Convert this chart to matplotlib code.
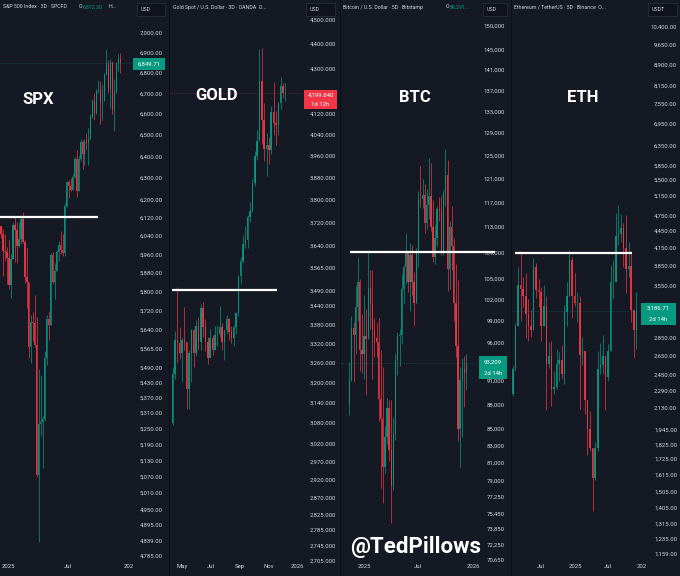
import matplotlib
matplotlib.use("Agg")
import matplotlib.pyplot as plt
from matplotlib.patches import Rectangle
from matplotlib.ticker import NullLocator, NullFormatter
import numpy as np

plt.rcParams['font.family'] = ['Roboto', 'DejaVu Sans']

W, H = 680, 576
BG = '#151924'
UP = '#089981'
DOWN = '#f23645'
TXT = '#d1d4dc'

# ---- SPX, 6 day candles from 2024-12-11 (day 0 = 2025-01-01)
spx_start, spx_step, spx_open = -21, 6, 6085
spx_close = [6050, 5975, 5970, 5942, 5827, 5937, 6086, 6067, 5994, 6026, 6115, 6013, 5861, 5842, 5572,
             5675, 5667, 5581, 5074, 5268, 5275, 5287, 5528, 5686, 5660, 5958, 5842, 5888, 5970, 6000,
             5977, 5967, 6173, 6279, 6263, 6243, 6305, 6388, 6238, 6389, 6468, 6411, 6465, 6460, 6481,
             6584, 6664, 6605, 6711, 6714, 6655, 6664, 6791, 6840, 6720, 6850, 6617, 6705, 6849, 6870, 6850]
spx_high = [6085, 6070, 6050, 5990, 6020, 5960, 6100, 6128, 6100, 6100, 6127, 6147, 6020, 5986, 5810,
            5700, 5715, 5786, 5695, 5481, 5460, 5300, 5555, 5700, 5720, 5965, 5970, 5920, 5980, 6016,
            6060, 6050, 6187, 6285, 6290, 6300, 6320, 6395, 6427, 6400, 6481, 6475, 6480, 6508, 6533,
            6600, 6672, 6700, 6720, 6765, 6760, 6744, 6800, 6920, 6865, 6870, 6860, 6770, 6853, 6895, 6900]
spx_low = [6030, 5865, 5930, 5830, 5810, 5773, 5940, 5925, 5920, 5990, 6003, 6008, 5837, 5732, 5528,
           5505, 5597, 5572, 5070, 4835, 5220, 5101, 5280, 5500, 5600, 5770, 5830, 5768, 5890, 5930,
           5960, 5950, 5950, 6170, 6210, 6240, 6250, 6300, 6212, 6240, 6380, 6343, 6360, 6430, 6360,
           6480, 6580, 6570, 6600, 6700, 6550, 6570, 6660, 6800, 6700, 6630, 6600, 6520, 6700, 6810, 6800]
spx_ticks = [7000, 6900, 6800, 6700, 6600, 6500, 6400, 6300, 6200, 6120, 6040, 5960, 5880, 5800, 5720,
             5640, 5565, 5490, 5430, 5370, 5310, 5250, 5190, 5130, 5070, 5010, 4950, 4895, 4839, 4785]
spx_dates = [0, 181, 365]
spx_date_labels = ['2025', 'Jul', '202']
spx_level = 6125
spx_last = 6849.71

# ---- Gold, 5 day candles from 2025-04-10
gold_start, gold_step, gold_open = 100, 5, 3080
gold_close = [3225, 3330, 3320, 3290, 3330, 3325, 3180, 3290, 3360, 3290, 3375, 3325, 3432, 3370, 3325,
              3275, 3335, 3300, 3345, 3350, 3370, 3325, 3360, 3395, 3355, 3335, 3370, 3415, 3535, 3586,
              3645, 3660, 3740, 3760, 3860, 3960, 4015, 4250, 4095, 3985, 4002, 3980, 4125, 4085, 4075,
              4160, 4230, 4200, 4200]
gold_high = [3245, 3357, 3500, 3370, 3340, 3435, 3320, 3300, 3365, 3365, 3392, 3403, 3446, 3452, 3398,
             3340, 3365, 3345, 3375, 3377, 3438, 3385, 3362, 3410, 3400, 3375, 3378, 3420, 3540, 3600,
             3674, 3707, 3745, 3791, 3875, 3977, 4059, 4380, 4381, 4160, 4045, 4030, 4150, 4245, 4130,
             4165, 4265, 4240, 4240]
gold_low = [3075, 3210, 3260, 3270, 3200, 3300, 3120, 3120, 3200, 3245, 3280, 3300, 3300, 3340, 3295,
            3255, 3290, 3283, 3310, 3310, 3340, 3300, 3268, 3350, 3330, 3320, 3312, 3350, 3405, 3510,
            3580, 3630, 3630, 3720, 3755, 3850, 3945, 4020, 4004, 3940, 3886, 3930, 3965, 4040, 4000,
            4040, 4140, 4180, 4170]
gold_ticks = [4500, 4400, 4300, 4120, 4040, 3960, 3880, 3800, 3720, 3640, 3565, 3490, 3440, 3380, 3320,
              3260, 3200, 3140, 3080, 3020, 2970, 2920, 2870, 2825, 2785, 2745, 2705]
gold_dates = [120, 181, 243, 304, 365]
gold_date_labels = ['May', 'Jul', 'Sep', 'Nov', '2026']
gold_level = 3490
gold_last = 4199.84

# ---- BTC, weekly candles from 2024-11-13
btc_start, btc_step, btc_open = -49, 7, 88000
btc_close = [91000, 98000, 97000, 101000, 104500, 95000, 94500, 96900, 96500, 103700, 101300, 97700, 96600,
             96100, 88700, 86200, 80500, 84000, 87500, 82500, 78400, 84400, 93700, 96900, 97000, 103500,
             106800, 109000, 104600, 108600, 104600, 101500, 108900, 117600, 117500, 118200, 113600, 116500,
             118100, 113000, 108300, 111200, 115900, 115800, 109000, 118600, 121600, 106500, 113000, 110000,
             101500, 95500, 85000, 91000, 92500, 92000, 93200]
btc_high = [93400, 99600, 98800, 104000, 108300, 105000, 99900, 102700, 100700, 109300, 106300, 106400, 99400,
            98700, 99400, 95000, 92800, 85300, 88800, 88500, 88500, 86400, 94600, 97500, 97900, 105800,
            107100, 112000, 109300, 110400, 110200, 106000, 109700, 118900, 123200, 120900, 120100, 119200,
            124500, 123600, 117400, 113300, 116400, 117900, 118000, 119000, 126200, 124100, 113900, 116400,
            111300, 107300, 104800, 92800, 93900, 94200, 94500]
btc_low = [86700, 90900, 90800, 94500, 99000, 92200, 92000, 91200, 89200, 96500, 97800, 91200, 94100,
           94100, 86000, 78200, 76600, 79900, 83200, 81200, 74400, 78000, 83700, 91700, 92900, 95800,
           101400, 104200, 103100, 100400, 102700, 98200, 105500, 106800, 116200, 116000, 112000, 112700,
           114200, 112400, 107600, 107300, 110000, 114000, 108600, 108600, 116400, 103300, 103500, 106400,
           98900, 94000, 83500, 80600, 84000, 87700, 89800]
btc_ticks = [150000, 145000, 141000, 137000, 133000, 129000, 125000, 121000, 117000, 113000, 109000, 105000,
             102000, 99000, 96000, 91000, 88000, 85000, 83000, 81000, 79000, 77250, 75450, 73850, 72250, 70650]
btc_dates = [0, 181, 365]
btc_date_labels = ['2025', 'Jul', '2026']
btc_level = 109000
btc_last = 93209

# ---- ETH, two week candles from 2024-01-29
eth_start, eth_step, eth_open = -338, 14, 2260
eth_close = [2500, 2990, 3560, 3500, 3400, 3150, 3000, 2950, 3830, 3480, 3450, 3000, 3250, 2560, 2640,
             2300, 2320, 2560, 2600, 2450, 3180, 3400, 3940, 3400, 3300, 3300, 2650, 2700, 2200, 1950,
             1800, 1590, 1800, 2500, 2550, 2640, 2420, 2700, 3600, 3600, 4350, 4400, 4500, 4150, 3800,
             3850, 3200, 2950, 3190]
eth_high = [2540, 3030, 3830, 4093, 3680, 3730, 3350, 3200, 3980, 3890, 3640, 3520, 3560, 3400, 2800,
            2820, 2480, 2720, 2690, 2770, 3270, 3600, 4107, 4000, 3740, 3450, 3400, 2860, 2700, 2200,
            2100, 1800, 1850, 2700, 2790, 2880, 2600, 2780, 3860, 3940, 4790, 4956, 4770, 4600, 4755,
            4250, 4100, 3200, 3450]
eth_low = [2240, 2480, 3000, 3060, 3240, 2850, 2810, 2860, 2990, 3360, 3240, 2810, 3140, 2110, 2520,
           2150, 2260, 2300, 2380, 2400, 2350, 3000, 3500, 3100, 3250, 3050, 2120, 2550, 2080, 1750,
           1780, 1385, 1580, 1780, 2450, 2450, 2110, 2380, 2900, 3350, 4180, 4200, 4250, 3830, 3430,
           3680, 3050, 2620, 2720]
eth_ticks = [10400, 9650, 8900, 8150, 7550, 6950, 6350, 5850, 5500, 5150, 4750, 4450, 4150, 3850, 3550,
             3250, 2850, 2650, 2450, 2290, 2130, 1945, 1825, 1725, 1615, 1505, 1405, 1315, 1235, 1159]
eth_dates = [-184, 0, 181, 365]
eth_date_labels = ['Jul', '2025', 'Jul', '202']
eth_level = 4060
eth_last = 3186.71


def fx(px):
    return px / W


def fy(py):
    return 1 - py / H


def candles(ax, start, step, first_open, close, high, low):
    c = np.asarray(close, dtype=float)
    o = np.r_[first_open, c[:-1]]
    x = start + step * np.arange(len(c))
    col = np.where(c >= o, UP, DOWN)
    lo = np.minimum(np.minimum(o, c), low)
    hi = np.maximum(np.maximum(o, c), high)
    ax.vlines(x, lo, hi, colors=col, lw=0.55, alpha=0.9)
    ax.bar(x, np.abs(c - o), bottom=np.minimum(o, c), width=step * 0.62, color=col, lw=0, alpha=0.9)


def panel(l, cr, lab_r, xlim, ylim, fmt, ticks, dates, date_labels):
    ax = fig.add_axes([fx(l), 15 / H, fx(cr - l), 561 / H])
    ax.set_facecolor('none')
    for s in ax.spines.values():
        s.set_visible(False)
    ax.set_yscale('log')
    ax.set_xlim(*xlim)
    ax.set_ylim(*ylim)
    ax.yaxis.tick_right()
    ax.set_yticks(ticks)
    ax.set_yticklabels([fmt.format(t) for t in ticks])
    ax.yaxis.set_minor_locator(NullLocator())
    ax.yaxis.set_minor_formatter(NullFormatter())
    ax.tick_params(axis='y', length=0, pad=(lab_r - cr) * 0.72, labelsize=4.3, labelcolor=TXT)
    for t in ax.get_yticklabels():
        t.set_ha('right')
    ax.set_xticks(dates)
    ax.set_xticklabels(date_labels)
    ax.tick_params(axis='x', length=0, pad=2.2, labelsize=4.3, labelcolor=TXT)
    return ax


fig = plt.figure(figsize=(6.8, 5.76), dpi=100, facecolor='#0b0d13')

# panel backgrounds
for a, b in [(0, 168), (170, 339), (341, 510), (512, 680)]:
    fig.add_artist(Rectangle((fx(a), 0), fx(b - a), 1, transform=fig.transFigure, color=BG, zorder=0))

# SPX
ax1 = panel(0, 134, 163, (-24.2, 380.5), (4768, 7170), '{:,.2f}', spx_ticks, spx_dates, spx_date_labels)
candles(ax1, spx_start, spx_step, spx_open, spx_close, spx_high, spx_low)
ax1.hlines(spx_level, -24.2, 271.8, color='white', lw=1.6)
ax1.axhline(spx_last, color=UP, lw=0.5, ls=':', alpha=0.5)

# Gold
ax2 = panel(170, 303, 336, (94.4, 377.7), (2710, 4585), '{:,.3f}', gold_ticks, gold_dates, gold_date_labels)
candles(ax2, gold_start, gold_step, gold_open, gold_close, gold_high, gold_low)
ax2.hlines(gold_level, 98.7, 322.4, color='white', lw=1.6)
ax2.axhline(gold_last, color=DOWN, lw=0.5, ls=':', alpha=0.5)

# BTC
ax3 = panel(341, 478, 505, (-77, 381.9), (70550, 155600), '{:,.0f}', btc_ticks, btc_dates, btc_date_labels)
candles(ax3, btc_start, btc_step, btc_open, btc_close, btc_high, btc_low)
ax3.hlines(btc_level, -46.9, 438.9, color='white', lw=1.6, clip_on=False)
ax3.axhline(btc_last, color=UP, lw=0.5, ls=':', alpha=0.5)

# ETH
ax4 = panel(512, 642, 677, (-343, 365), (1126, 11640), '{:,.2f}', eth_ticks, eth_dates, eth_date_labels)
candles(ax4, eth_start, eth_step, eth_open, eth_close, eth_high, eth_low)
ax4.hlines(eth_level, -327, 310.6, color='white', lw=1.6)
ax4.axhline(eth_last, color=UP, lw=0.5, ls=':', alpha=0.5)

# headers
hs = dict(fontsize=3.8, color=TXT, va='center')
fig.text(fx(3), fy(7), 'S&P 500 Index · 3D · SPCFD', **hs)
fig.text(fx(79), fy(7), 'O', **hs)
fig.text(fx(83), fy(7), '6,812.30', **dict(hs, color=UP))
fig.text(fx(109), fy(7), 'H...', **hs)
fig.text(fx(173), fy(7), 'Gold Spot / U.S. Dollar · 3D · OANDA  O...', **hs)
fig.text(fx(343), fy(7), 'Bitcoin / U.S. Dollar · 5D · Bitstamp', **hs)
fig.text(fx(446), fy(7), 'O', **hs)
fig.text(fx(450), fy(7), '86,291...', **dict(hs, color=UP))
fig.text(fx(514), fy(7), 'Ethereum / TetherUS · 5D · Binance  O...', **hs)

# currency boxes
for x0, x1, s in [(137, 165, 'USD'), (306, 335, 'USD'), (483, 507, 'USD'), (648, 677, 'USDT')]:
    fig.add_artist(Rectangle((fx(x0), fy(16)), fx(x1 - x0), 13 / H, transform=fig.transFigure,
                             facecolor='#10131b', edgecolor='#2f3340', lw=0.5))
    fig.text(fx(x0 + 4), fy(9.5), s, fontsize=3.8, color=TXT, va='center')

# last price tags
tags = [(133, 165, 58, 70, UP, ['6,849.71']),
        (304, 337, 90, 109, DOWN, ['4,199.840', '1d 12h']),
        (479, 507, 356, 379, UP, ['93,209', '2d 14h']),
        (641, 676, 303, 325, UP, ['3,186.71', '2d 14h'])]
for x0, x1, y0, y1, c, lines in tags:
    fig.add_artist(Rectangle((fx(x0), fy(y1)), fx(x1 - x0), (y1 - y0) / H, transform=fig.transFigure,
                             color=c, lw=0, zorder=2))
    n = len(lines)
    for i, s in enumerate(lines):
        yy = y0 + (y1 - y0) * (i + 0.5) / n
        fig.text(fx((x0 + x1) / 2), fy(yy), s, fontsize=4.3, color='white', ha='center', va='center',
                 zorder=3)

# big names
for x, y, s in [(38, 99, 'SPX'), (217, 96, 'GOLD'), (415, 97, 'BTC'), (583, 98, 'ETH')]:
    fig.text(fx(x), fy(y), s, fontsize=12, fontweight='bold', color='white', ha='center', va='center')

fig.text(fx(350), fy(547), '@TedPillows', fontsize=16, fontweight='bold', color='white', va='center')

plt.savefig('out.png', dpi=100, facecolor=fig.get_facecolor())
